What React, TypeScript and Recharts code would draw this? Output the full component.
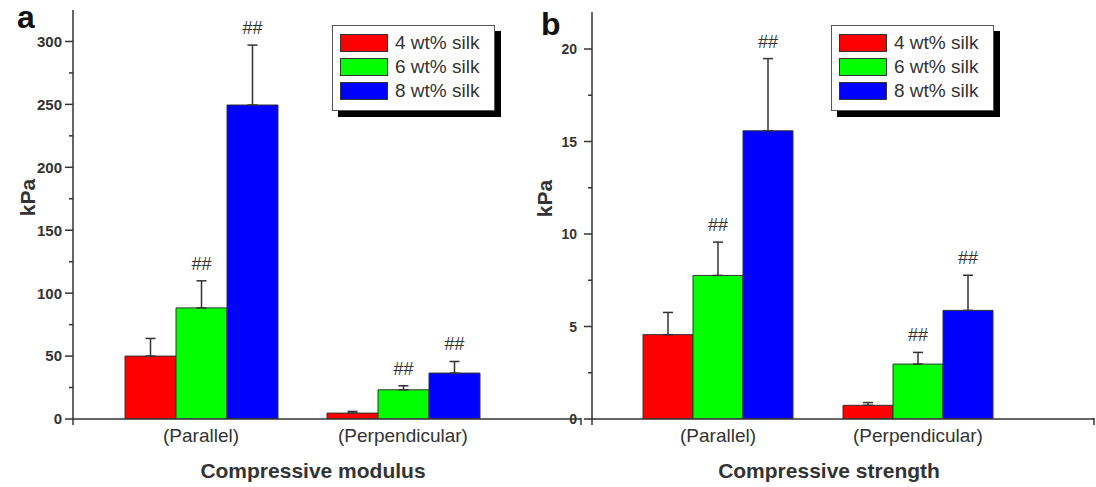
import { BarChart, Bar, XAxis, YAxis, ErrorBar, LabelList, Legend } from "recharts";

const categories = ["(Parallel)", "(Perpendicular)"];
const seriesNames = ["4 wt% silk", "6 wt% silk", "8 wt% silk"];
const seriesColors = ["#ff0000", "#00ff00", "#0000ff"];

// compressive modulus (kPa)
const modulus4 = [50, 4.7];
const modulus6 = [88.3, 23.2];
const modulus8 = [249.5, 36.5];
const modulusErr4 = [14, 1.3];
const modulusErr6 = [21.5, 3.2];
const modulusErr8 = [47.6, 9.2];

// compressive strength (kPa)
const strength4 = [4.56, 0.74];
const strength6 = [7.76, 2.97];
const strength8 = [15.58, 5.87];
const strengthErr4 = [1.2, 0.15];
const strengthErr6 = [1.8, 0.63];
const strengthErr8 = [3.9, 1.9];

const marks4 = ["", ""];
const marks6 = ["##", "##"];
const marks8 = ["##", "##"];

const modulusTicks = [0, 25, 50, 75, 100, 125, 150, 175, 200, 225, 250, 275, 300];
const strengthTicks = [0, 2.5, 5, 7.5, 10, 12.5, 15, 17.5, 20];
const edgeTicks = [0, 1, 2];

const FONT = "'Liberation Sans', Arial, sans-serif";
const INK = "#333";

function buildRows(v4: number[], v6: number[], v8: number[], e4: number[], e6: number[], e8: number[]) {
  return categories.map((name, i) => ({
    name,
    v4: v4[i],
    v6: v6[i],
    v8: v8[i],
    e4: [0, e4[i]],
    e6: [0, e6[i]],
    e8: [0, e8[i]],
    h4: e4[i],
    h6: e6[i],
    h8: e8[i],
    m4: marks4[i],
    m6: marks6[i],
    m8: marks8[i],
  }));
}

const modulusData = buildRows(modulus4, modulus6, modulus8, modulusErr4, modulusErr6, modulusErr8);
const strengthData = buildRows(strength4, strength6, strength8, strengthErr4, strengthErr6, strengthErr8);

function makeYTick(step: number, fontSize: number, gap: number) {
  return (props: any) => {
    const { x, y, payload } = props;
    const v = payload.value;
    const major = Math.abs(v / step - Math.round(v / step)) < 1e-6;
    return (
      <g>
        <line x1={x - (major ? 8 : 4)} x2={x} y1={y} y2={y} stroke={INK} strokeWidth={1.5} />
        {major && (
          <text
            x={x - gap}
            y={y}
            dy="0.36em"
            textAnchor="end"
            fontSize={fontSize}
            fontWeight="bold"
            fontFamily={FONT}
            fill={INK}
          >
            {v}
          </text>
        )}
      </g>
    );
  };
}

// short downward tick at the group boundaries of the x axis
const EdgeTick = (props: any) => {
  const { x, y } = props;
  return <line x1={x} x2={x} y1={y - 1} y2={y + 6} stroke={INK} strokeWidth={1.5} />;
};

function LegendBox() {
  return (
    <div
      style={{
        boxSizing: "border-box",
        width: 163,
        height: 86,
        border: "1.5px solid #555",
        background: "#fff",
        boxShadow: "6px 6px 0 #000",
        padding: "5px 0 0 7px",
        fontFamily: FONT,
      }}
    >
      {seriesNames.map((n, i) => (
        <div key={n} style={{ display: "flex", alignItems: "center", height: 24 }}>
          <span
            style={{
              display: "inline-block",
              boxSizing: "border-box",
              width: 48,
              height: 18,
              background: seriesColors[i],
              border: "1px solid #333",
              marginRight: 7,
            }}
          />
          <span style={{ fontSize: 19, color: INK, whiteSpace: "nowrap" }}>{n}</span>
        </div>
      ))}
    </div>
  );
}

function Panel({
  data,
  width,
  top,
  right,
  yWidth,
  domain,
  ticks,
  step,
  tickFont,
  tickGap,
  padding,
  title,
  kpaDx,
  legendLeft,
}: any) {
  return (
    <BarChart
      width={width}
      height={487}
      data={data}
      margin={{ top, right, left: 0, bottom: 0 }}
      barCategoryGap={padding.gap}
      barGap={0}
    >
      <XAxis
        xAxisId="cat"
        dataKey="name"
        padding={{ left: padding.left, right: padding.right }}
        axisLine={false}
        tickLine={false}
        tickSize={0}
        tickMargin={9}
        height={67}
        tick={{ fontSize: 19, fill: INK, fontFamily: FONT }}
        label={{
          value: title,
          position: "insideBottom",
          offset: 9,
          dx: -14,
          fontSize: 21,
          fontWeight: "bold",
          fill: INK,
          fontFamily: FONT,
        }}
      />
      <XAxis
        xAxisId="base"
        type="number"
        domain={[0, 2]}
        allowDataOverflow
        ticks={edgeTicks}
        interval={0}
        tick={EdgeTick}
        axisLine={{ stroke: INK, strokeWidth: 1.5 }}
        tickLine={false}
        tickSize={0}
        tickMargin={0}
        height={1}
      />
      <YAxis
        width={yWidth}
        domain={domain}
        ticks={ticks}
        interval={0}
        allowDataOverflow
        axisLine={{ stroke: INK, strokeWidth: 1.5 }}
        tickLine={false}
        tickSize={0}
        tickMargin={0}
        tick={makeYTick(step, tickFont, tickGap)}
        label={{
          value: "kPa",
          angle: -90,
          position: "center",
          dx: kpaDx,
          dy: -17,
          fontSize: 21,
          fontWeight: "bold",
          fill: INK,
          fontFamily: FONT,
        }}
      />
      <Legend
        layout="vertical"
        align="center"
        verticalAlign="middle"
        content={() => <LegendBox />}
        wrapperStyle={{ left: legendLeft, top: 25, width: "auto", height: "auto" }}
      />
      {["4", "6", "8"].map((k, i) => [
        <Bar
          key={"v" + k}
          xAxisId="cat"
          dataKey={"v" + k}
          stackId={"s" + k}
          fill={seriesColors[i]}
          stroke={INK}
          strokeWidth={1}
          isAnimationActive={false}
        >
          <ErrorBar dataKey={"e" + k} width={5} stroke={INK} strokeWidth={1.5} direction="y" />
        </Bar>,
        <Bar
          key={"h" + k}
          xAxisId="cat"
          dataKey={"h" + k}
          stackId={"s" + k}
          fill="none"
          stroke="none"
          legendType="none"
          isAnimationActive={false}
        >
          <LabelList
            dataKey={"m" + k}
            position="top"
            offset={11}
            fontSize={18}
            fontFamily={FONT}
            fill={INK}
          />
        </Bar>,
      ])}
    </BarChart>
  );
}

export default function App() {
  return (
    <div
      style={{
        position: "absolute",
        left: 0,
        top: 0,
        width: 1096,
        height: 487,
        background: "#fff",
        overflow: "hidden",
        fontFamily: FONT,
      }}
    >
      <div style={{ position: "absolute", left: 0, top: 0 }}>
        <Panel
          data={modulusData}
          width={590}
          top={10}
          right={9}
          yWidth={73}
          domain={[0, 325]}
          ticks={modulusTicks}
          step={50}
          tickFont={15}
          tickGap={11}
          padding={{ left: 27, right: 77, gap: 25 }}
          title="Compressive modulus"
          kpaDx={-8.5}
          legendLeft={332}
        />
      </div>
      <div style={{ position: "absolute", left: 520, top: 0 }}>
        <Panel
          data={strengthData}
          width={576}
          top={12}
          right={2}
          yWidth={72}
          domain={[0, 22]}
          ticks={strengthTicks}
          step={5}
          tickFont={14}
          tickGap={15}
          padding={{ left: 26, right: 76, gap: 25 }}
          title="Compressive strength"
          kpaDx={-11}
          legendLeft={311}
        />
      </div>
      <div
        style={{
          position: "absolute",
          left: 17,
          top: 1,
          fontSize: 32,
          lineHeight: "32px",
          fontWeight: "bold",
          color: "#111",
        }}
      >
        a
      </div>
      <div
        style={{
          position: "absolute",
          left: 541,
          top: 8,
          fontSize: 32,
          lineHeight: "32px",
          fontWeight: "bold",
          color: "#111",
        }}
      >
        b
      </div>
    </div>
  );
}
